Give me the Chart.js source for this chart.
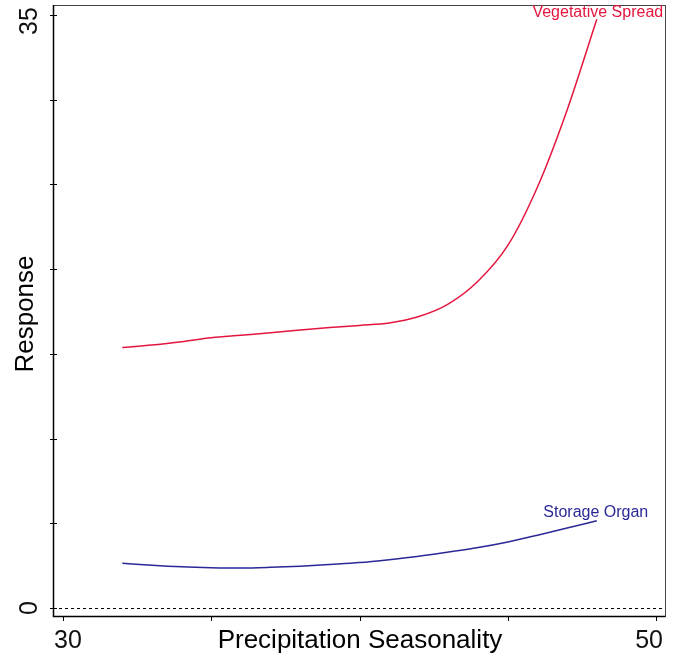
<!DOCTYPE html>
<html>
<head>
<meta charset="utf-8">
<script src="https://cdn.jsdelivr.net/npm/chart.js@4"></script>
<style>
  body { margin: 0; background: #fff; }
  #wrap { width: 680px; height: 662px; }
</style>
</head>
<body>
<div id="wrap"><canvas id="respChart" width="680" height="662"></canvas></div>
<script>
// values
const precipSeasonality = [32, 33, 34, 35, 36, 37, 38, 39, 40, 41, 42, 43, 44, 45, 46, 47, 48];
const vegetativeSpread = [15.37, 15.52, 15.72, 15.95, 16.1, 16.25, 16.41, 16.55, 16.68, 16.82, 17.2, 17.95, 19.3, 21.4, 24.85, 29.4, 34.75];
const storageOrgan = [2.64, 2.52, 2.43, 2.38, 2.36, 2.40, 2.47, 2.57, 2.68, 2.85, 3.05, 3.3, 3.57, 3.9, 4.3, 4.72, 5.15];
const xTicks = [30, 35, 40, 45, 50];
const xTickLabels = ['30', '', '', '', '50'];
const yTicks = [0, 5, 10, 15, 20, 25, 30, 35];
const yTickLabels = ['0', '', '', '', '', '', '', '35'];
const seriesNames = ['Vegetative Spread', 'Storage Organ'];

const RED = '#e3173e';
const BLUE = '#2a2896';
const FONT = '"Liberation Sans", Arial, sans-serif';

const toPoints = vals => vals.map((v, i) => ({ x: precipSeasonality[i], y: v }));

const axesPlugin = {
    id: 'rAxes',
    afterDraw(chart) {
        const ctx = chart.ctx;
        const a = chart.chartArea;
        const xs = chart.scales.x;
        const ys = chart.scales.y;
        ctx.save();

        // zero line
        ctx.strokeStyle = '#000';
        ctx.lineWidth = 1;
        ctx.setLineDash([3, 3]);
        const y0 = Math.round(ys.getPixelForValue(0)) + 0.5;
        ctx.beginPath();
        ctx.moveTo(a.left, y0);
        ctx.lineTo(a.right, y0);
        ctx.stroke();
        ctx.setLineDash([]);

        // box
        ctx.strokeStyle = '#444';
        ctx.strokeRect(a.left + 0.5, a.top + 0.5, a.right - a.left, a.bottom - a.top);
        ctx.strokeStyle = '#000';
        ctx.lineWidth = 1.5;
        ctx.beginPath();
        ctx.moveTo(a.left + 0.5, a.top);
        ctx.lineTo(a.left + 0.5, a.bottom + 0.5);
        ctx.lineTo(a.right + 0.5, a.bottom + 0.5);
        ctx.stroke();

        // ticks
        ctx.lineWidth = 1;
        yTicks.forEach(t => {
            const py = Math.round(ys.getPixelForValue(t)) + 0.5;
            ctx.beginPath();
            ctx.moveTo(a.left - 3, py);
            ctx.lineTo(a.left + 4, py);
            ctx.stroke();
        });
        xTicks.forEach(t => {
            const px = Math.round(xs.getPixelForValue(t)) + 0.5;
            ctx.beginPath();
            ctx.moveTo(px, a.bottom);
            ctx.lineTo(px, a.bottom + 5);
            ctx.stroke();
        });

        // tick labels
        ctx.fillStyle = '#111';
        ctx.font = '25px ' + FONT;
        ctx.textBaseline = 'alphabetic';
        ctx.textAlign = 'center';
        xTicks.forEach((t, i) => {
            if (!xTickLabels[i]) return;
            let px = xs.getPixelForValue(t);
            if (i === 0) px += 5;
            if (i === xTicks.length - 1) px -= 7;
            ctx.fillText(xTickLabels[i], px, 648);
        });
        yTicks.forEach((t, i) => {
            if (!yTickLabels[i]) return;
            let py = ys.getPixelForValue(t);
            if (i === yTicks.length - 1) py += 6;
            ctx.save();
            ctx.translate(37, py);
            ctx.rotate(-Math.PI / 2);
            ctx.fillText(yTickLabels[i], 0, 0);
            ctx.restore();
        });

        // axis titles
        ctx.fillStyle = '#000';
        ctx.font = '26px ' + FONT;
        ctx.fillText('Precipitation Seasonality', 360, 648);
        ctx.save();
        ctx.translate(33, 314);
        ctx.rotate(-Math.PI / 2);
        ctx.fillText('Response', 0, 0);
        ctx.restore();

        // series labels at the curve ends
        ctx.font = '16px ' + FONT;
        const last = precipSeasonality.length - 1;
        const lx = xs.getPixelForValue(precipSeasonality[last]);
        ctx.fillStyle = RED;
        ctx.fillText(seriesNames[0], lx + 1, ys.getPixelForValue(vegetativeSpread[last]) - 2);
        ctx.fillStyle = BLUE;
        ctx.fillText(seriesNames[1], lx - 1, ys.getPixelForValue(storageOrgan[last]) - 4);

        ctx.restore();
    }
};

new Chart(document.getElementById('respChart').getContext('2d'), {
    type: 'scatter',
    data: {
        datasets: [{
            label: seriesNames[0],
            data: toPoints(vegetativeSpread),
            showLine: true,
            borderColor: RED,
            borderWidth: 1.5,
            pointRadius: 0,
            cubicInterpolationMode: 'monotone'
        }, {
            label: seriesNames[1],
            data: toPoints(storageOrgan),
            showLine: true,
            borderColor: BLUE,
            borderWidth: 1.5,
            pointRadius: 0,
            cubicInterpolationMode: 'monotone'
        }]
    },
    options: {
        responsive: false,
        animation: false,
        layout: { padding: { left: 53, top: 5, right: 15, bottom: 46 } },
        scales: {
            x: { type: 'linear', min: 29.663, max: 50.30, display: false },
            y: { type: 'linear', min: -0.472, max: 35.59, display: false }
        },
        plugins: {
            legend: { display: false },
            tooltip: { enabled: false }
        }
    },
    plugins: [axesPlugin]
});
</script>
</body>
</html>
